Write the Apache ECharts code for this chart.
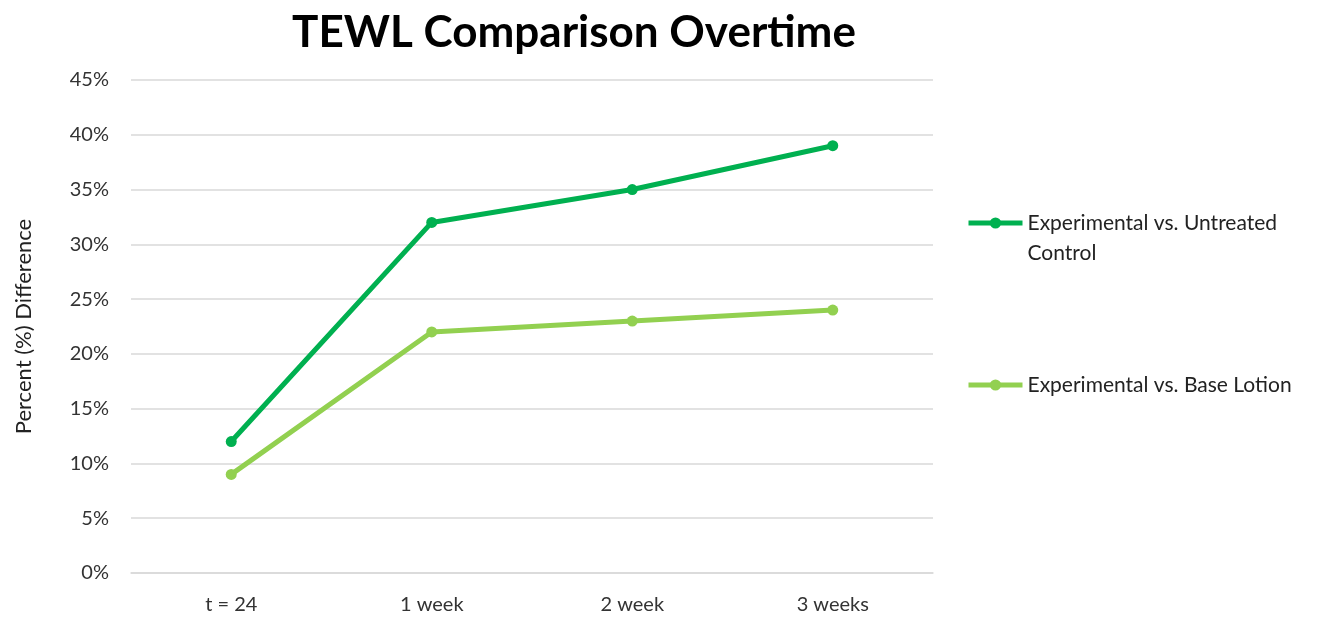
<!DOCTYPE html>
<html>
<head>
<meta charset="utf-8">
<script src="https://cdn.jsdelivr.net/npm/echarts@6/dist/echarts.min.js"></script>
<style>
  html, body { margin: 0; padding: 0; background: #fff; }
  #chart { width: 1322px; height: 617px; }
</style>
</head>
<body>
<div id="chart"></div>
<script>
  // data
  var categories = ['t = 24', '1 week', '2 week', '3 weeks'];
  var untreatedControl = [12, 32, 35, 39];
  var baseLotion = [9, 22, 23, 24];
  var yTicks = { min: 0, max: 45, interval: 5 };

  var nameUntreated = 'Experimental vs. Untreated Control';
  var nameBase = 'Experimental vs. Base Lotion';
  var darkGreen = '#00b050';
  var lightGreen = '#92d050';
  var font = 'Lato, "Noto Sans", sans-serif';

  var myChart = echarts.init(document.getElementById('chart'));

  var legendText = {
    fontFamily: font,
    fontSize: 21,
    color: '#222',
    lineHeight: 30
  };

  myChart.setOption({
    animation: false,
    title: {
      text: 'TEWL Comparison Overtime',
      left: 569,
      top: 6,
      textAlign: 'center',
      textStyle: { fontFamily: font, fontSize: 44, fontWeight: 'bold', color: '#000' }
    },
    legend: [
      {
        data: [nameUntreated],
        left: 961,
        top: 173,
        itemWidth: 54,
        itemHeight: 14,
        lineStyle: { width: 5 },
        textStyle: legendText,
        formatter: function () {
          // blank first line keeps the icon level with the first text line
          return '\nExperimental vs. Untreated\nControl';
        }
      },
      {
        data: [nameBase],
        left: 961,
        top: 365,
        itemWidth: 54,
        itemHeight: 14,
        lineStyle: { width: 5 },
        textStyle: legendText
      }
    ],
    grid: {
      left: 131,
      right: 389,
      top: 80,
      bottom: 44
    },
    xAxis: {
      type: 'category',
      data: categories,
      axisLine: { show: true, lineStyle: { color: '#d9d9d9', width: 1.5 } },
      axisTick: { show: false },
      axisLabel: { fontFamily: font, fontSize: 20, color: '#333', margin: 22 }
    },
    yAxis: {
      type: 'value',
      min: yTicks.min,
      max: yTicks.max,
      interval: yTicks.interval,
      name: 'Percent (%) Difference',
      nameLocation: 'middle',
      nameGap: 96,
      nameTextStyle: { fontFamily: font, fontSize: 22, color: '#222' },
      axisLine: { show: false },
      axisTick: { show: false },
      splitLine: { lineStyle: { color: '#d9d9d9', width: 1.5 } },
      axisLabel: {
        fontFamily: font,
        fontSize: 20,
        color: '#333',
        margin: 22,
        formatter: '{value}%'
      }
    },
    series: [
      {
        name: nameUntreated,
        type: 'line',
        data: untreatedControl,
        color: darkGreen,
        symbol: 'circle',
        symbolSize: 11,
        lineStyle: { width: 5 }
      },
      {
        name: nameBase,
        type: 'line',
        data: baseLotion,
        color: lightGreen,
        symbol: 'circle',
        symbolSize: 11,
        lineStyle: { width: 5 }
      }
    ]
  });
</script>
</body>
</html>
